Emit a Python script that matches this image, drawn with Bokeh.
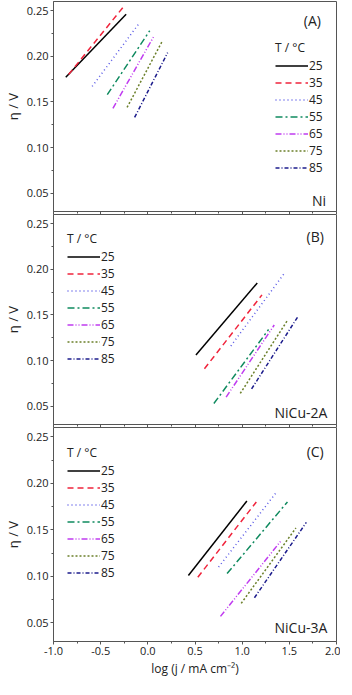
from bokeh.plotting import figure
from bokeh.layouts import column
from bokeh.models import Range1d, Legend, LegendItem, Label, FixedTicker, NumeralTickFormatter
from bokeh.embed import file_html
from bokeh.resources import INLINE

# ---- data ----
temps = ["25", "35", "45", "55", "65", "75", "85"]

# panel A (Ni): start/end of each Tafel line
ni_logj_start = [-0.87, -0.84, -0.59, -0.43, -0.37, -0.22, -0.14]
ni_logj_end = [-0.23, -0.26, -0.10, 0.02, 0.07, 0.15, 0.21]
ni_eta_start = [0.177, 0.180, 0.167, 0.158, 0.143, 0.144, 0.133]
ni_eta_end = [0.246, 0.254, 0.235, 0.228, 0.223, 0.216, 0.204]

# panel B (NiCu-2A)
c2_logj_start = [0.51, 0.60, 0.88, 0.70, 0.83, 0.98, 1.10]
c2_logj_end = [1.16, 1.21, 1.45, 1.28, 1.34, 1.48, 1.59]
c2_eta_start = [0.106, 0.091, 0.116, 0.053, 0.060, 0.064, 0.069]
c2_eta_end = [0.185, 0.172, 0.196, 0.134, 0.139, 0.144, 0.148]

# panel C (NiCu-3A)
c3_logj_start = [0.43, 0.53, 0.75, 0.84, 0.77, 0.99, 1.13]
c3_logj_end = [1.05, 1.15, 1.36, 1.48, 1.41, 1.57, 1.68]
c3_eta_start = [0.101, 0.099, 0.110, 0.103, 0.057, 0.071, 0.077]
c3_eta_end = [0.181, 0.180, 0.190, 0.180, 0.138, 0.152, 0.158]

x_ticks = [-1.0, -0.5, 0.0, 0.5, 1.0, 1.5, 2.0]
x_minor = [-0.75, -0.25, 0.25, 0.75, 1.25, 1.75]
y_ticks = [0.05, 0.10, 0.15, 0.20, 0.25]
y_minor = [0.075, 0.125, 0.175, 0.225]

# ---- styles ----
colors = ["#000000", "#f0243c", "#5a5ae6", "#0f8a5f", "#c03cf0", "#6b7f2a", "#1c1c8c"]
dashes = ["solid", "6 4", "1 3", "7 3 2 3", "6 2 1 2 1 2", "2 2", "4 2 1 2"]
FONT = "Open Sans"
AX = "#555555"

x_range = Range1d(-1.0, 2.0)


def panel(height, xs0, xs1, ys0, ys1, tag, tag_pos, sample, sample_pos, legend_loc, show_x, top):
    p = figure(width=340, height=height, x_range=x_range, y_range=Range1d(0.03, 0.26),
               output_backend="svg", toolbar_location=None,
               min_border_left=0, min_border_right=4,
               min_border_top=top, min_border_bottom=0)
    p.xgrid.visible = False
    p.ygrid.visible = False
    p.outline_line_color = AX
    p.outline_line_width = 1
    p.background_fill_color = "white"

    for ax in (p.xaxis[0], p.yaxis[0]):
        ax.axis_line_color = AX
        ax.major_tick_line_color = AX
        ax.minor_tick_line_color = AX
        ax.major_tick_in = 0
        ax.major_tick_out = 3
        ax.minor_tick_in = 0
        ax.minor_tick_out = 2
        ax.major_label_text_font = FONT
        ax.major_label_text_font_size = "11px"
        ax.major_label_text_color = "#222222"
        ax.axis_label_text_font = FONT
        ax.axis_label_text_font_style = "normal"
        ax.axis_label_text_color = "#222222"

    p.xaxis.ticker = FixedTicker(ticks=x_ticks, minor_ticks=x_minor)
    p.xaxis.formatter = NumeralTickFormatter(format="0.0")
    p.yaxis.ticker = FixedTicker(ticks=y_ticks, minor_ticks=y_minor)
    p.yaxis.formatter = NumeralTickFormatter(format="0.00")
    p.yaxis.axis_label = "η / V"
    p.yaxis.axis_label_text_font_size = "13px"
    p.yaxis.axis_label_standoff = 2
    p.yaxis.major_label_standoff = 2

    if show_x:
        p.xaxis.axis_label = "log (j / mA cm⁻²)"
        p.xaxis.axis_label_text_font_size = "12px"
        p.xaxis.axis_label_standoff = 2
        p.xaxis.major_label_standoff = 2
    else:
        p.xaxis.major_label_overrides = {t: "" for t in x_ticks}
        p.xaxis.major_label_standoff = 0

    items = []
    for i, t in enumerate(temps):
        r = p.line([xs0[i], xs1[i]], [ys0[i], ys1[i]], line_color=colors[i],
                   line_dash=dashes[i], line_width=1.5)
        items.append(LegendItem(label=t, renderers=[r]))

    leg = Legend(items=items, location=legend_loc, title="T / °C",
                 title_text_font=FONT, title_text_font_size="12px", title_text_font_style="normal",
                 title_text_color="#222222", title_standoff=1,
                 label_text_font=FONT, label_text_font_size="12px", label_text_color="#222222",
                 label_text_line_height=1.0,
                 glyph_width=33, glyph_height=15, label_height=15, label_standoff=1,
                 spacing=0, padding=0, margin=0,
                 background_fill_alpha=0, border_line_alpha=0)
    p.add_layout(leg, "center")

    p.add_layout(Label(x=tag_pos[0], y=tag_pos[1], text=tag, text_font=FONT,
                       text_font_size="14px", text_color="#222222",
                       text_align="center", text_baseline="middle"))
    p.add_layout(Label(x=sample_pos[0], y=sample_pos[1], text=sample, text_font=FONT,
                       text_font_size="14px", text_color="#222222",
                       text_align="right", text_baseline="middle"))
    return p


pa = panel(214, ni_logj_start, ni_logj_end, ni_eta_start, ni_eta_end,
           "(A)", (1.744, 0.2395), "Ni", (1.889, 0.042), (222, 35), False, 1)
pb = panel(213, c2_logj_start, c2_logj_end, c2_eta_start, c2_eta_end,
           "(B)", (1.774, 0.236), "NiCu-2A", (1.903, 0.043), (14, 57), False, 0)
pc = panel(252, c3_logj_start, c3_logj_end, c3_eta_start, c3_eta_end,
           "(C)", (1.774, 0.234), "NiCu-3A", (1.903, 0.045), (14, 60), True, 0)

layout = column(pa, pb, pc, spacing=0)
open("out.html", "w").write(file_html(layout, INLINE))
